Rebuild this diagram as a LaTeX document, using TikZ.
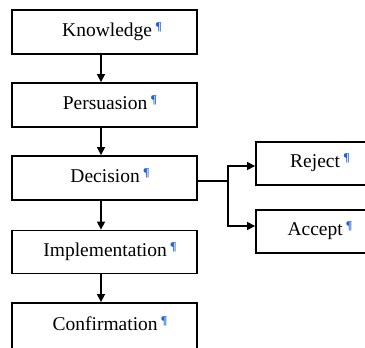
\documentclass[tikz,border=0pt]{standalone}
\usepackage{fontspec}
\setmainfont{Liberation Serif}
\usetikzlibrary{arrows.meta}
\definecolor{pilcrow}{RGB}{30,95,215}
\newcommand{\pil}{\raisebox{0.3em}{\fontsize{12pt}{12pt}\selectfont\color{pilcrow}\textbf{¶}}}
\tikzset{
  box/.style={draw=black, line width=1.8pt, rectangle, inner sep=0pt},
  lbl/.style={inner sep=0pt, anchor=base, font=\fontsize{19.5pt}{19.5pt}\selectfont},
  arr/.style={line width=1.5pt, -{Triangle[length=8pt,width=8pt]}},
  ln/.style={line width=1.5pt}
}
\begin{document}
\begin{tikzpicture}[x=1pt,y=-1pt]
\useasboundingbox (0,0) rectangle (365,348);
\clip (0,0) rectangle (365,348);
% left column
\node[box, minimum width=185pt, minimum height=44pt] (k) at (104.5,32) {};
\node[box, minimum width=185pt, minimum height=44pt] (p) at (104.5,105) {};
\node[box, minimum width=185pt, minimum height=44pt] (d) at (104.5,178) {};
\node[box, minimum width=185pt, minimum height=43pt] (i) at (104.5,252) {};
\node[box, minimum width=185pt, minimum height=50pt] (c) at (104.5,328) {};
% right column
\node[box, minimum width=125pt, minimum height=43pt] (r) at (318.5,163.5) {};
\node[box, minimum width=125pt, minimum height=43pt] (a) at (318.5,231.5) {};
% labels
\node[lbl] (kt) at (112,36) {Knowledge\,\pil};
\node[lbl] (pt) at (110,109) {Persuasion\,\pil};
\node[lbl] (dt) at (110,182) {Decision\,\pil};
\node[lbl] (it) at (110,256) {Implementation\,\pil};
\node[lbl] (ct) at (110,330) {Confirmation\,\pil};
\node[lbl] (rt) at (320,167) {Reject\,\pil};
\node[lbl] (at) at (320,235) {Accept\,\pil};
% connectors
\draw[arr] (k.south -| 101,0) -- (p.north -| 101,0);
\draw[arr] (p.south -| 101,0) -- (d.north -| 101,0);
\draw[arr] (d.south -| 101,0) -- (i.north -| 101,0);
\draw[arr] (i.south -| 101,0) -- (c.north -| 101,0);
\coordinate (j) at (228,181);
\draw[ln] (d.east |- j) -- (j);
\draw[arr] (j) |- (r.west |- 0,166);
\draw[arr] (j) |- (a.west |- 0,226);
\end{tikzpicture}
\end{document}
